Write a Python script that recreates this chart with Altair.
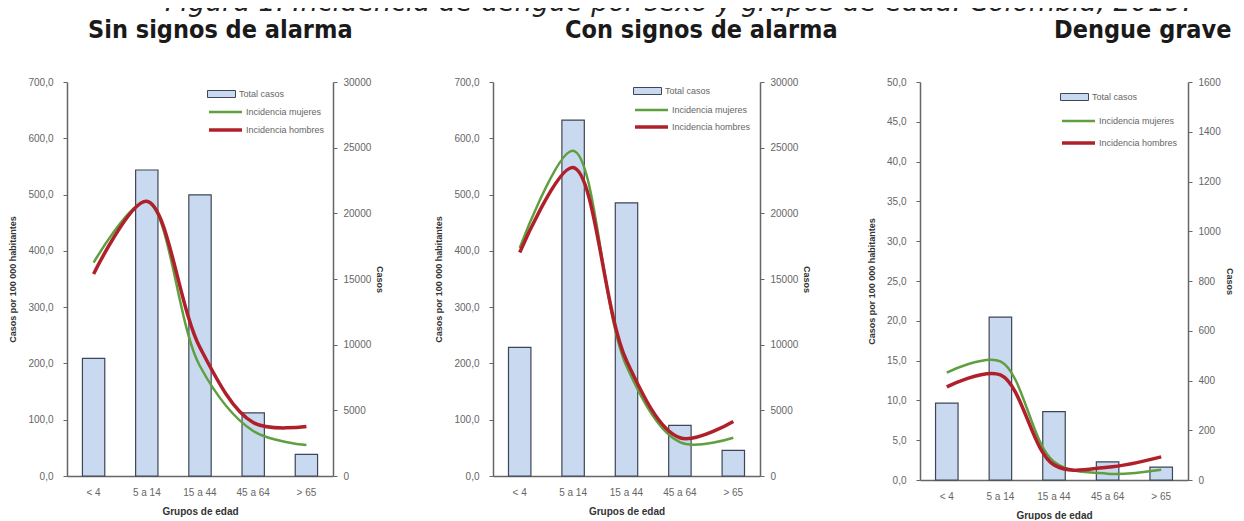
import altair as alt
import pandas as pd

caption = ["Figura 1. Incidencia de dengue por sexo y grupos de edad. Colombia, 2019."]
groups = ["< 4", "5 a 14", "15 a 44", "45 a 64", "> 65"]
panel_titles = ["Sin signos de alarma", "Con signos de alarma", "Dengue grave"]
series_names = ["Total casos", "Incidencia mujeres", "Incidencia hombres"]

# Sin signos de alarma
casos_sin = [8950, 23300, 21400, 4800, 1650]
mujeres_sin = [379, 487, 195, 80, 55]
hombres_sin = [359, 488, 228, 95, 88]

# Con signos de alarma
casos_con = [9800, 27100, 20800, 3850, 1950]
mujeres_con = [405, 578, 195, 60, 68]
hombres_con = [397, 548, 205, 68, 97]

# Dengue grave
casos_grave = [309, 655, 275, 73, 52]
mujeres_grave = [13.5, 14.9, 2.3, 0.8, 1.3]
hombres_grave = [11.7, 13.2, 1.9, 1.6, 2.9]

left_max = [700, 700, 50]
left_step = [100, 100, 5]
right_max = [30000, 30000, 1600]
right_step = [5000, 5000, 200]

BAR_FILL = "#c9daf0"
BAR_STROKE = "#3d4656"
GREEN = "#5f9f3f"
RED = "#b0202a"
AXIS_COL = "#666666"
LABEL_COL = "#666666"
TITLE_COL = "#333333"
FONT = "Liberation Sans"


def panel(idx, casos, muj, hom, width, height, title_dx, leg_y, leg_pad):
    bars_df = pd.DataFrame({"grupo": groups, "casos": casos, "serie": [series_names[0]] * len(groups)})
    lines_df = pd.DataFrame({
        "grupo": groups * 2,
        "inc": muj + hom,
        "serie": [series_names[1]] * len(groups) + [series_names[2]] * len(groups),
    })
    xenc = alt.X(
        "grupo:N", sort=groups,
        scale=alt.Scale(paddingInner=0.58, paddingOuter=0.29),
        axis=alt.Axis(title="Grupos de edad", labelAngle=0, ticks=False, domainColor=AXIS_COL,
                      domainWidth=1.5, labelColor=LABEL_COL, labelFont=FONT, labelFontSize=10,
                      labelPadding=11, titleFont=FONT, titleFontSize=10, titleFontWeight="bold",
                      titleColor=TITLE_COL, titlePadding=9),
    )
    bars = alt.Chart(bars_df).mark_bar(stroke=BAR_STROKE, strokeWidth=1.2).encode(
        x=xenc,
        y=alt.Y("casos:Q", scale=alt.Scale(domain=[0, right_max[idx]], nice=False),
                axis=alt.Axis(orient="right", values=list(range(0, right_max[idx] + 1, right_step[idx])),
                              format="d", title="Casos", grid=False, tickSize=4, tickColor=AXIS_COL,
                              domainColor=AXIS_COL, domainWidth=1.5, labelColor=LABEL_COL,
                              labelFont=FONT, labelFontSize=10, labelPadding=6, titleFont=FONT,
                              titleFontSize=9, titleFontWeight="bold", titleColor=TITLE_COL,
                              titlePadding=4)),
        fill=alt.Fill("serie:N", scale=alt.Scale(domain=[series_names[0]], range=[BAR_FILL]),
                      legend=alt.Legend(title=None, orient="none", legendX=140, legendY=leg_y[0],
                                        symbolType="M-1,-0.25L1,-0.25L1,0.25L-1,0.25Z",
                                        symbolSize=784, symbolStrokeColor=BAR_STROKE,
                                        symbolStrokeWidth=1, clipHeight=10, padding=0,
                                        labelFont=FONT, labelFontSize=9, labelColor=LABEL_COL,
                                        labelOffset=3)),
    )
    yl = alt.Y("inc:Q", scale=alt.Scale(domain=[0, left_max[idx]], nice=False),
               axis=alt.Axis(orient="left", values=[v * left_step[idx] for v in range(0, 11)
                                                     if v * left_step[idx] <= left_max[idx]],
                             labelExpr="replace(format(datum.value, '.1f'), '.', ',')",
                             title="Casos por 100 000 habitantes", grid=False, tickSize=4,
                             tickColor=AXIS_COL, domainColor=AXIS_COL, domainWidth=1.5,
                             labelColor=LABEL_COL, labelFont=FONT, labelFontSize=10, labelPadding=10,
                             titleFont=FONT, titleFontSize=9, titleFontWeight="bold",
                             titleColor=TITLE_COL, titlePadding=10))
    leg = alt.Legend(title=None, orient="none", legendX=140, legendY=leg_y[1], symbolType="stroke",
                     symbolSize=1089, clipHeight=10, rowPadding=leg_pad, padding=0,
                     labelFont=FONT, labelFontSize=9, labelColor=LABEL_COL, labelOffset=2)
    stroke = alt.Stroke("serie:N", scale=alt.Scale(domain=series_names[1:], range=[GREEN, RED]), legend=leg)
    sw = alt.StrokeWidth("serie:N", scale=alt.Scale(domain=series_names[1:], range=[2.5, 3.5]), legend=leg)
    lbase = alt.Chart(lines_df)
    green = lbase.transform_filter(alt.datum.serie == series_names[1]).mark_line(
        interpolate="catmull-rom").encode(x=xenc, y=yl, stroke=stroke, strokeWidth=sw)
    red = lbase.transform_filter(alt.datum.serie == series_names[2]).mark_line(
        interpolate="catmull-rom").encode(x=xenc, y=yl, stroke=stroke, strokeWidth=sw)
    lines = alt.layer(green, red)
    return alt.layer(bars, lines).resolve_scale(y="independent").properties(
        width=width, height=height,
        title=alt.TitleParams(panel_titles[idx], anchor="start", frame="group", dx=title_dx,
                              font="DejaVu Sans Condensed", fontSize=25,
                              fontWeight="bold", color="#1a1a1a", offset=34),
    )


p1 = panel(0, casos_sin, mujeres_sin, hombres_sin, 266, 394, 21, (7, 25), 8)
p2 = panel(1, casos_con, mujeres_con, hombres_con, 267, 394, 72, (4, 23), 7)
p3 = panel(2, casos_grave, mujeres_grave, hombres_grave, 268, 398, 134, (10, 34), 12)

panels = alt.hconcat(p1, p2, p3, spacing=160, bounds="flush").resolve_scale(
    fill="independent", stroke="independent", strokeWidth="independent")

strip = alt.Chart(pd.DataFrame({"t": caption})).mark_text(
    align="left", baseline="alphabetic", font="DejaVu Sans", fontStyle="italic",
    fontSize=27, color="#222222").encode(
    text="t:N", x=alt.value(98), y=alt.value(0)).properties(width=1000, height=1)

chart = alt.vconcat(strip, panels, spacing=2).properties(
    padding={"top": -19, "left": 0, "right": 0, "bottom": 0}
).configure_view(stroke=None)

chart.save("out.html", embed_options={"renderer": "svg", "actions": False})
